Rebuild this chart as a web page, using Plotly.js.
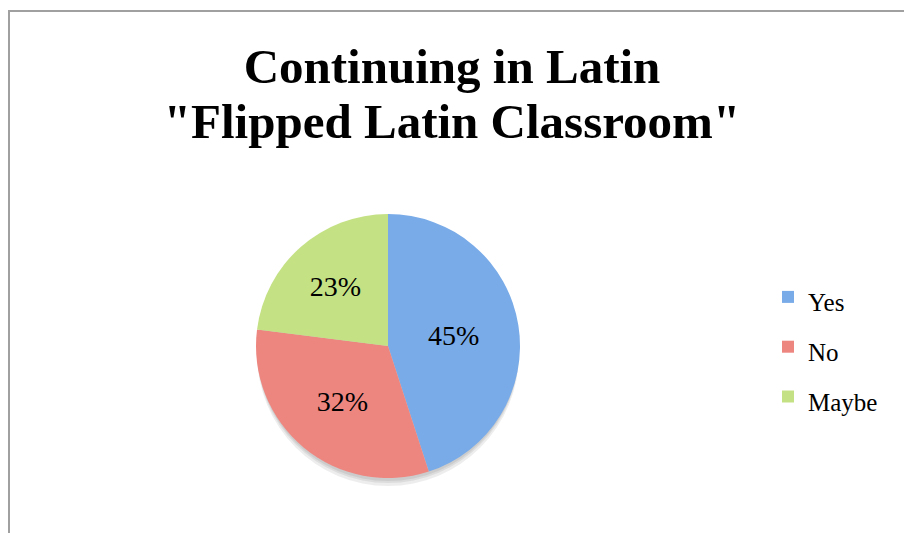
<!DOCTYPE html>
<html>
<head>
<meta charset="utf-8">
<script src="https://cdn.plot.ly/plotly-3.0.1.min.js"></script>
<style>html,body{margin:0;padding:0;background:#fff}#chart{width:904px;height:533px}</style>
</head>
<body>
<div id="chart"></div>
<script>
const categories = ["Yes", "No", "Maybe"];
const values = [45, 32, 23];
const sliceColors = ["#79abe8", "#ee8680", "#c4e184"];
const titleLines = ["Continuing in Latin", "\"Flipped Latin Classroom\""];

const W = 904, H = 533;
const cx = 388, cy = 346, r = 132;

const legendLabels = categories.map(c => '<span style="font-size:25px">' + c + '</span>');
const titleText = titleLines.map(t => '<span style="font-size:49px">' + t + '</span>').join("<br>");

const trace = {
  type: "pie",
  labels: legendLabels,
  values: values,
  sort: false,
  direction: "clockwise",
  rotation: 0,
  marker: { colors: sliceColors, line: { width: 0 } },
  textinfo: "percent",
  textposition: "inside",
  insidetextorientation: "horizontal",
  texttemplate: "%{percent:.0%}",
  textfont: { family: "Liberation Serif", size: 28, color: "#000" },
  hoverinfo: "percent",
  domain: { x: [(cx - r) / W, (cx + r) / W], y: [(H - cy - r) / H, (H - cy + r) / H] }
};

function px(x) { return x / W; }
function py(y) { return 1 - y / H; }

const shadows = [8, 5, 3].map(d => ({
  type: "circle", xref: "paper", yref: "paper", layer: "below",
  x0: px(cx - r + 1), x1: px(cx + r - 1), y0: py(cy + r + d), y1: py(cy - r + d),
  fillcolor: "rgba(0,0,0,0.07)", line: { width: 0 }
}));

const layout = {
  width: W, height: H,
  margin: { l: 0, r: 0, t: 0, b: 0 },
  paper_bgcolor: "#fff",
  showlegend: true,
  title: {
    text: titleText,
    font: { family: "Liberation Serif", size: 42, color: "#000", weight: "bold" },
    x: 0.5, xanchor: "center", y: py(83), yanchor: "top"
  },
  legend: {
    x: 768 / W, xanchor: "left", y: py(347), yanchor: "middle",
    font: { family: "Liberation Serif", size: 36, color: "#000" },
    itemwidth: 30, bgcolor: "rgba(0,0,0,0)"
  },
  shapes: shadows.concat([
    { type: "line", xref: "paper", yref: "paper", x0: px(9), x1: 1.01, y0: py(11), y1: py(11), line: { color: "#a0a0a0", width: 2 } },
    { type: "line", xref: "paper", yref: "paper", x0: px(9), x1: px(9), y0: py(10), y1: -0.01, line: { color: "#a0a0a0", width: 2 } }
  ])
};

Plotly.newPlot("chart", [trace], layout, { displayModeBar: false, staticPlot: true });
</script>
</body>
</html>
